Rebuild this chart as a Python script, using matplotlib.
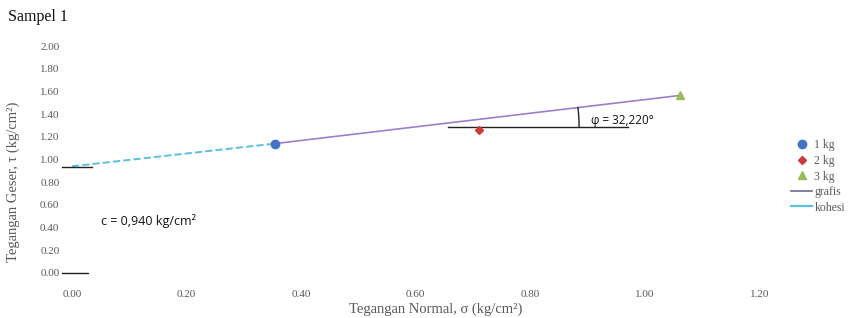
import numpy as np
import matplotlib
matplotlib.use("Agg")
import matplotlib.pyplot as plt

# data
sigma = [0.354, 0.710, 1.062]      # normal stress (kg/cm2)
tau = [1.140, 1.262, 1.565]        # shear stress (kg/cm2)
labels = ['1 kg', '2 kg', '3 kg']
cohesion = 0.940
phi = 32.220

colors = ['#4472C4', '#D0393A', '#9BBB59']
markers = ['o', 'D', '^']
msizes = [6, 4.5, 6]

plt.rcParams['font.family'] = ['Liberation Serif', 'DejaVu Serif']
gray = '#595959'

fig = plt.figure(figsize=(8.6, 3.18), dpi=100)
ax = fig.add_axes([72 / 860, 45 / 318, 699 / 860, 227 / 318])

# kohesi line (dashed) from cohesion to first point
ax.plot([0, sigma[0]], [cohesion, tau[0]], color='#5BC0DE', lw=1.4, ls='--', zorder=2)
# grafis line
ax.plot([sigma[0], sigma[2]], [tau[0], tau[2]], color='#9C7FCC', lw=1.2, zorder=2)

for x, y, c, m, s, lab in zip(sigma, tau, colors, markers, msizes, labels):
    ax.plot(x, y, marker=m, color=c, ms=s, ls='none', label=lab, zorder=3)

ax.plot([], [], color='#6B6B8C', lw=1.2, label='grafis')
ax.plot([], [], color='#5BC0DE', lw=1.6, label='kohesi')

# short black marks at cohesion and zero
ax.plot([-0.017, 0.035], [0.93, 0.93], color='#222222', lw=1.0, clip_on=False)
ax.plot([-0.017, 0.028], [0.0, 0.0], color='#222222', lw=1.0, clip_on=False)

# angle drawing: horizontal reference and arc between it and the grafis line
y_h = 1.288
slope = (tau[2] - tau[0]) / (sigma[2] - sigma[0])
x0 = sigma[0] + (y_h - tau[0]) / slope
ax.plot([0.656, 0.970], [y_h, y_h], color='#222222', lw=1.0)
sx = 573.0   # px per unit x
sy = 113.5   # px per unit y
r = 163.0    # arc radius in px
ang = np.arctan(slope * sy / sx)
t = np.linspace(0, ang, 30)
ax.plot(x0 + r * np.cos(t) / sx, y_h + r * np.sin(t) / sy, color='#222222', lw=1.0)

ax.text(0.905, 1.34, f'φ = {phi:.3f}°'.replace('.', ','), fontsize=8.5,
        family=['Open Sans', 'DejaVu Sans'], color='#111111', va='center')
ax.text(0.05, 0.46, f'c = {cohesion:.3f} kg/cm²'.replace('.', ','), fontsize=9,
        family=['Open Sans', 'DejaVu Sans'], color='#111111', va='center')

ax.set_xlim(0, 1.22)
ax.set_ylim(0, 2.0)
ax.set_xticks(np.arange(0, 1.21, 0.2))
ax.set_yticks(np.arange(0, 2.01, 0.2))
ax.set_xticklabels([f'{v:.2f}' for v in np.arange(0, 1.21, 0.2)])
ax.set_yticklabels([f'{v:.2f}' for v in np.arange(0, 2.01, 0.2)])
ax.tick_params(length=0, labelsize=8, colors=gray)
ax.tick_params(axis='x', pad=12)
ax.tick_params(axis='y', pad=9)
for sp in ax.spines.values():
    sp.set_visible(False)

ax.set_xlabel('Tegangan Normal, σ (kg/cm²)', fontsize=10.5, color=gray)
ax.xaxis.set_label_coords(0.52, -0.13)
ax.set_ylabel('Tegangan Geser, τ (kg/cm²)', fontsize=10.5, color=gray)
ax.yaxis.set_label_coords(-0.075, 0.40)

fig.text(8 / 860, 1 - 17 / 318, 'Sampel 1', fontsize=11.5, color='#111111', va='center')

leg = ax.legend(loc='center left', bbox_to_anchor=(1.02, 0.425), frameon=False,
                fontsize=8.5, handlelength=1.8, handletextpad=0.2, labelspacing=0.3,
                borderpad=0)
for t in leg.get_texts():
    t.set_color(gray)

fig.savefig('out.png', dpi=100)
